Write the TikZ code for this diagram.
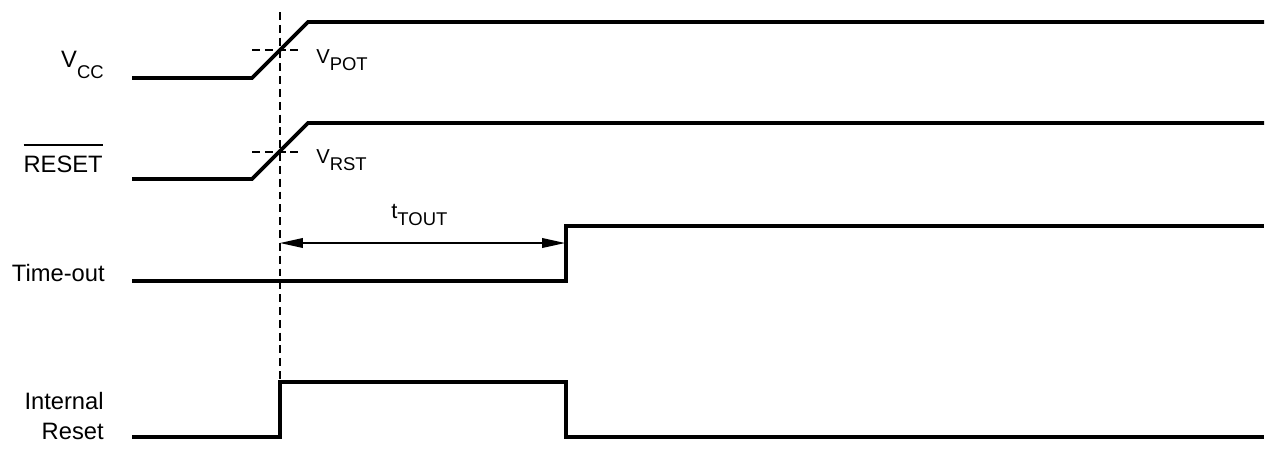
\documentclass[tikz,border=0pt]{standalone}
\usepackage{fontspec}
\setmainfont{Liberation Sans}
\usetikzlibrary{arrows.meta}
\newcommand{\sigsub}[2][4pt]{\raisebox{-#1}{\fontsize{10.5}{10.5}\selectfont #2}}
\newcommand{\barsig}[1]{\vbox{\hrule height 1pt\kern 5.5pt\hbox{#1}}}

\begin{document}
\begin{tikzpicture}[x=0.02cm,y=-0.02cm,
    wave/.style={line width=2.2pt,line join=miter},
    guide/.style={line width=1pt,dash pattern=on 4.5pt off 2.8pt},
    siglabel/.style={anchor=base east,inner sep=0pt,align=right,
        font=\fontsize{13.5}{17}\selectfont},
    level/.style={anchor=base west,inner sep=0pt,
        font=\fontsize{11.5}{14}\selectfont},
    delay/.style={{Triangle[length=13pt,width=5.5pt]}-{Triangle[length=13pt,width=5.5pt]},line width=0.8pt}]
    \useasboundingbox (0,0) rectangle (1273,454);
    % signal names
    \node[siglabel] (vcc) at (104,67) {V\sigsub[6.5pt]{CC}};
    \node[siglabel] (rst) at (103,172) {\barsig{RESET}};
    \node[siglabel] (tout) at (105,281) {Time-out};
    \node[siglabel] (irst) at (104,439) {Internal\\Reset};
    % power-on reference line
    \coordinate (ton) at (280,12);
    \coordinate (ion) at (280,382);
    \draw[guide] (ton) -- (ion);
    % thresholds
    \draw[guide] (252,50) coordinate (pota) -- (303,50) coordinate (potb);
    \draw[guide] (252,152) coordinate (rsta) -- (300,152) coordinate (rstb);
    \node[level] (vpot) at (316,63) {V\sigsub{POT}};
    \node[level] (vrst) at (316,163) {V\sigsub{RST}};
    % waveforms
    \draw[wave] (132,78) -- (252,78) -- (308,22) -- (1264,22);
    \draw[wave] (132,179) -- (252,179) -- (308,123) -- (1264,123);
    \draw[wave] (132,281) -- (566,281) -- (566,226) -- (1264,226);
    \draw[wave] (132,437) -- (280,437) -- (280,382) -- (566,382)
        -- (566,437) -- (1264,437);
    % time-out delay
    \coordinate (tstart) at (280,243);
    \coordinate (tend) at (565,243);
    \draw[delay] (tstart) -- (tend);
    \node[level,font=\fontsize{12.5}{14}\selectfont] (ttout) at (391,218)
        {t\sigsub[4.5pt]{TOUT}};
\end{tikzpicture}
\end{document}
